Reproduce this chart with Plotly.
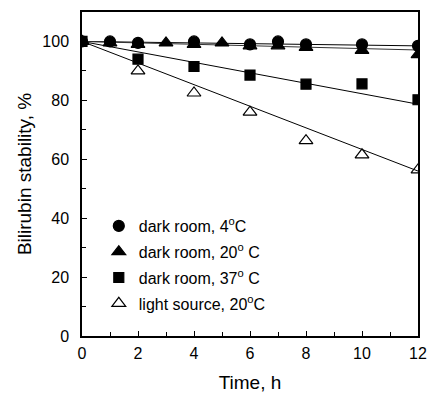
import plotly.graph_objects as go

# Data
time_4c = [0, 1, 2, 4, 6, 7, 8, 10, 12]
stab_4c = [100, 100, 99.5, 100, 99, 100, 99, 99, 98.5]
time_20c = [0, 1, 2, 3, 4, 5, 6, 7, 8, 10, 12]
stab_20c = [100, 99.5, 99, 99.5, 99, 99.5, 98.5, 98.5, 98, 97, 95.5]
time_37c = [0, 2, 4, 6, 8, 10, 12]
stab_37c = [100, 94, 91.5, 88.6, 85.5, 85.6, 80.2]
time_light = [0, 2, 4, 6, 8, 10, 12]
stab_light = [100, 90, 82.5, 76, 66.3, 61.5, 56.4]

fit_x = [0, 12]
fit_4c = [100, 98.5]
fit_20c = [100, 97.1]
fit_37c = [100, 78.7]
fit_light = [100, 56.0]

names = ["dark room, 4<sup>o</sup>C", "dark room, 20<sup>o</sup> C",
         "dark room, 37<sup>o</sup> C", "light source, 20<sup>o</sup>C"]

fig = go.Figure()

for fy, col in [(fit_4c, "black"), (fit_20c, "#333"), (fit_37c, "black"), (fit_light, "black")]:
    fig.add_trace(go.Scatter(x=fit_x, y=fy, mode="lines", line=dict(color=col, width=1),
                             showlegend=False, hoverinfo="skip"))

series = [
    (time_4c, stab_4c, "circle", 11, names[0]),
    (time_20c, stab_20c, "triangle-up", 12, names[1]),
    (time_37c, stab_37c, "square", 10, names[2]),
    (time_light, stab_light, "triangle-up-open", 12, names[3]),
]
for i, (xs, ys, sym, sz, nm) in enumerate(series):
    fig.add_trace(go.Scatter(
        x=xs, y=ys, mode="markers", name=nm, legendgroup="g%d" % i,
        marker=dict(symbol=sym, size=sz, color="black",
                    line=dict(color="black", width=1.2)),
    ))

fig.update_layout(
    width=429, height=397,
    margin=dict(l=82, r=11, t=12, b=61),
    paper_bgcolor="white", plot_bgcolor="white",
    font=dict(family="Liberation Sans, Arial, sans-serif", size=16, color="black"),
    legend=dict(x=0.05, y=0.392, xanchor="left", yanchor="top",
                bgcolor="rgba(0,0,0,0)", tracegroupgap=2,
                font=dict(size=16), itemwidth=30),
)
fig.update_xaxes(
    range=[0, 12], tickvals=[0, 2, 4, 6, 8, 10, 12], ticks="inside", ticklen=5,
    ticklabelstandoff=2, ticklabeloverflow="allow", automargin=False,
    showline=True, linecolor="black", linewidth=1.5, mirror=True, showgrid=False,
    zeroline=False, title=dict(text="Time, h", standoff=15),
    minor=dict(tickvals=[1, 3, 5, 7, 9, 11], ticks="inside", ticklen=4, tickcolor="black"),
    tickcolor="black",
)
fig.update_yaxes(
    range=[0, 110], tickvals=[0, 20, 40, 60, 80, 100], ticks="inside", ticklen=5,
    ticklabelstandoff=8, ticklabeloverflow="allow", automargin=False,
    showline=True, linecolor="black", linewidth=1.5, mirror=True, showgrid=False,
    zeroline=False, title=dict(text="Bilirubin stability, %", standoff=6),
    minor=dict(tickvals=[10, 30, 50, 70, 90], ticks="inside", ticklen=4, tickcolor="black"),
    tickcolor="black",
)

fig.write_html("out.html", config={"displayModeBar": False},
               post_script="document.body.style.margin='0';document.body.style.overflow='hidden';")
